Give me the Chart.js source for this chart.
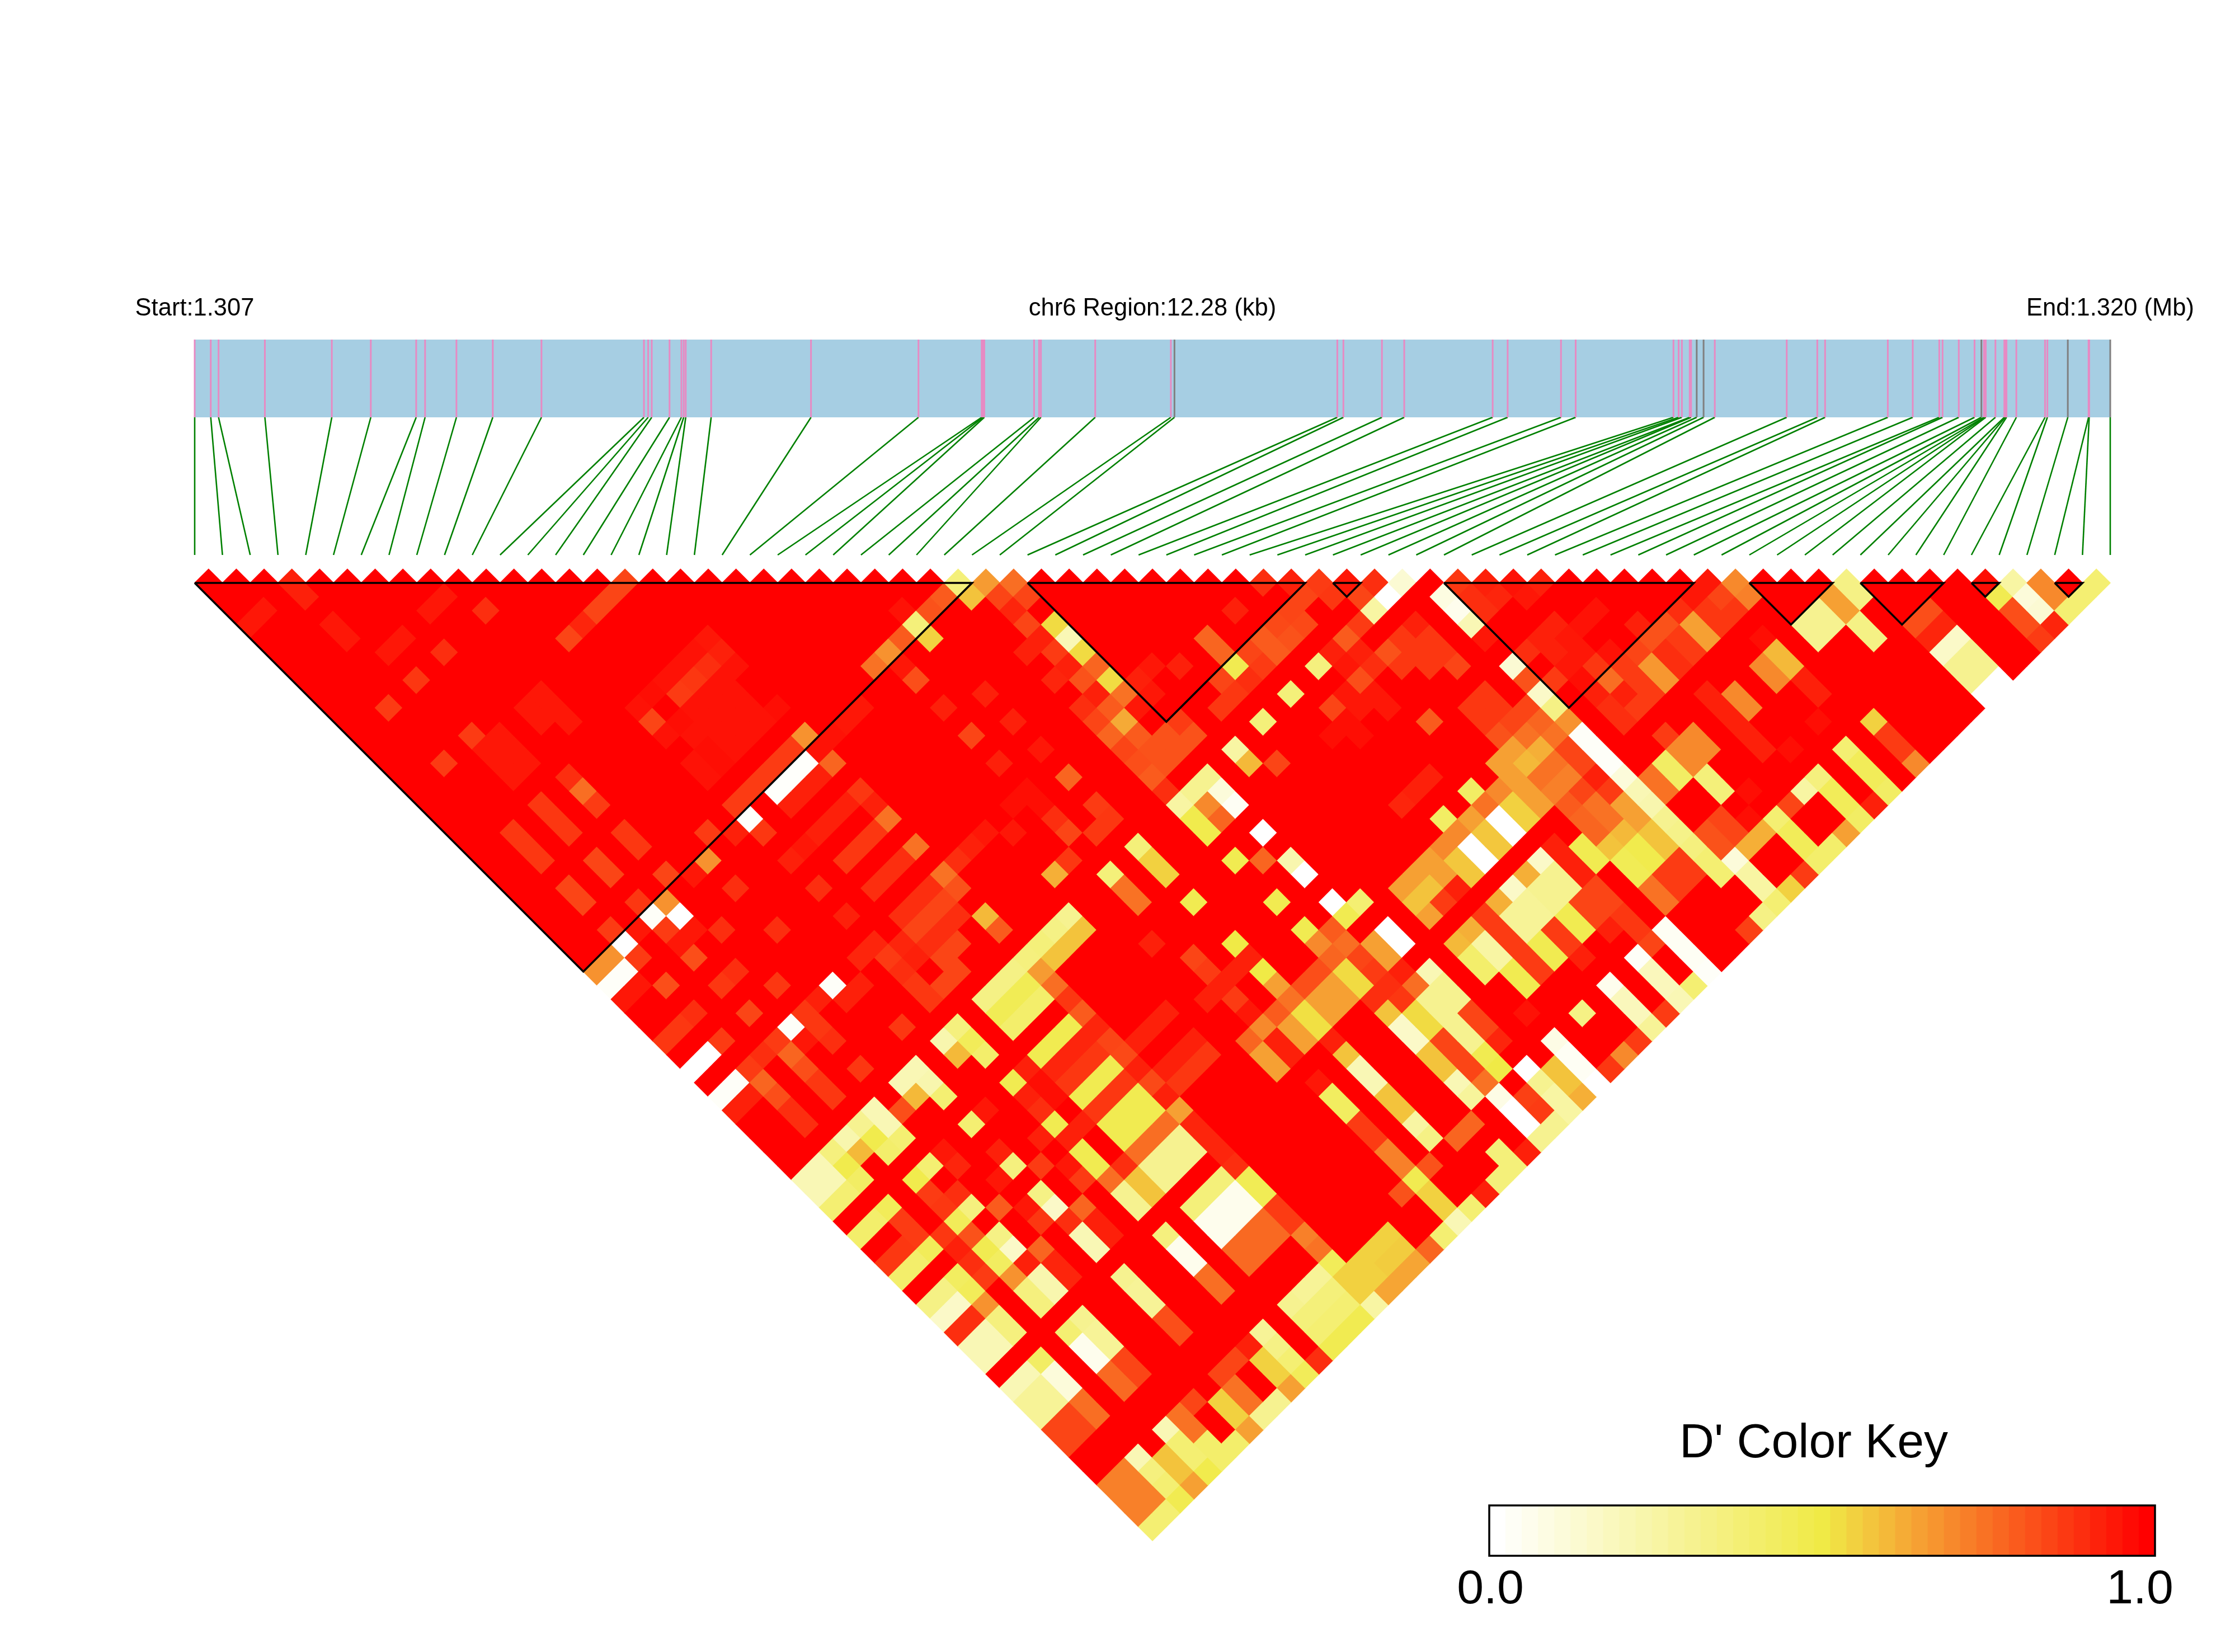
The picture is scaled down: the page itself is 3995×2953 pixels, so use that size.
<!DOCTYPE html>
<html>
<head>
<meta charset="utf-8">
<title>chr6 LD heatmap</title>
<script src="https://cdn.jsdelivr.net/npm/chart.js@4/dist/chart.umd.min.js"></script>
<style>
  html, body { margin: 0; padding: 0; background: #fff; }
  canvas { display: block; }
</style>
</head>
<body>
<canvas id="ldChart" width="3995" height="2953" role="img" aria-label="LD heatmap of chr6"></canvas>
<script>
// SNP positions in kb from the region start
const snpKb = [
  0, 0.103, 0.153, 0.45, 0.879, 1.129, 1.42, 1.477, 1.678, 1.911,
  2.223, 2.88, 2.907, 2.93, 3.044, 3.12, 3.135, 3.148, 3.311, 3.951,
  4.64, 5.045, 5.053, 5.062, 5.381, 5.413, 5.425, 5.773, 6.258, 6.281,
  7.325, 7.364, 7.611, 7.754, 8.321, 8.417, 8.759, 8.853, 9.48, 9.513,
  9.534, 9.584, 9.593, 9.629, 9.673, 9.745, 10.206, 10.402, 10.452, 10.854,
  11.014, 11.184, 11.205, 11.309, 11.41, 11.454, 11.47, 11.476, 11.482, 11.544,
  11.601, 11.607, 11.615, 11.678, 11.862, 11.877, 12.008, 12.141, 12.145, 12.28,
];
const regionKb = 12.28;
const greySnps = [30, 44, 45, 56, 67, 70];

// haplotype blocks, first and last SNP
const blockFirst = [1, 31, 42, 46, 57, 61, 65, 68];
const blockLast = [29, 41, 43, 55, 60, 64, 66, 69];

// D' of every pair that is not 1.0: SNP i, then j, value, j, value ...
const weakPairs = [
  [1, 5,.95, 30,.68, 31,.02, 32,.95, 35,.88, 37,0, 39,.02, 40,.93, 45,.2, 46,.2, 47,.38, 49,.4, 51,.88, 52,.4, 54,.33, 55,.15, 56,.9, 57,.2, 58,.2, 60,.2, 61,.28, 62,.28, 63,.85, 64,.85, 67,.72, 68,.72, 69,.72, 70,.38],
  [2, 5,.95, 30,.68, 31,.02, 32,.95, 35,.88, 37,0, 39,.02, 40,.93, 45,.2, 46,.2, 47,.38, 49,.4, 51,.88, 52,.4, 54,.33, 55,.15, 56,.9, 57,.2, 58,.2, 60,.2, 61,.28, 62,.28, 63,.85, 64,.85, 67,.72, 68,.72, 69,.72, 70,.38],
  [3, 13,.87, 17,.87, 22,.88, 23,.88, 24,.88, 26,.85, 27,.85, 29,.87, 30,0, 31,.87, 33,.83, 35,.9, 37,.87, 39,.87, 40,.78, 41,.83, 42,.9, 43,.9, 45,.35, 46,.48, 47,.42, 49,.45, 50,.87, 51,.87, 52,.45, 54,.43, 55,.45, 56,.68, 57,.35, 58,.35, 60,.42, 61,.1, 62,.1, 63,.76, 64,.76, 67,.2, 68,.35, 69,.38, 70,.47],
  [4, 5,.93, 6,.93, 8,.95, 9,.95, 30,.95, 39,.9, 45,.22, 46,.6, 52,.88, 53,.93, 54,.9, 55,.87, 68,.58, 69,.58, 70,.65],
  [5, 11,.95, 13,.88, 17,.87, 18,.95, 19,.95, 20,.95, 22,.88, 23,.88, 24,.88, 26,.85, 27,.85, 29,.88, 30,.02, 31,.87, 32,.95, 33,.83, 35,.88, 37,.85, 39,.87, 40,.78, 41,.83, 42,.88, 43,.88, 45,.3, 46,.48, 47,.4, 49,.48, 50,.87, 51,.88, 52,.45, 53,.82, 54,.47, 55,.43, 56,.68, 57,.35, 58,.35, 60,.38, 61,.05, 62,.05, 63,.77, 64,.77, 67,.2, 68,.38, 69,.38, 70,.48],
  [6, 11,.95, 18,.95, 19,.95, 20,.95, 30,.68, 31,0, 32,.95, 35,.9, 39,.02, 40,.95, 45,.2, 46,.2, 47,.38, 49,.38, 51,.9, 52,.35, 54,.33, 55,.15, 56,.93, 57,.22, 58,.22, 60,.3, 61,.28, 62,.28, 63,.85, 64,.85, 67,.75, 68,.75, 69,.4, 70,.4],
  [7, 13,.9, 22,.9, 23,.76, 24,.87, 26,.88, 27,.88, 29,.85, 33,.9, 37,.88, 39,.88, 40,.88, 41,.9, 43,.88, 46,.83, 49,.95, 50,.92, 53,.8, 56,.78, 57,.92, 58,.92, 67,.85, 70,.4],
  [8, 11,.95, 18,.95, 19,.95, 30,.95, 39,.93, 45,.2, 46,.6, 52,.95, 54,.95, 55,.88, 68,.55, 69,.55, 70,.65],
  [9, 11,.95, 18,.95, 19,.95, 20,.95, 30,.68, 32,.9, 35,.9, 39,.02, 40,.93, 45,.2, 46,.22, 47,.38, 49,.38, 51,.93, 52,.35, 54,.33, 55,.15, 56,.9, 57,.2, 58,.2, 60,.3, 61,.28, 62,.28, 63,.83, 64,.83, 67,.85, 68,.75, 69,.75, 70,.3],
  [10, 13,.9, 29,.87, 40,.93, 43,.88, 49,.95, 53,.87, 56,.78, 57,.93, 58,.93, 67,.85, 70,.3],
  [11, 30,.93, 39,.92, 45,.22, 46,.6, 52,.93, 54,.95, 55,.87, 67,.93, 68,.55, 69,.55, 70,.65],
  [12, 17,.85, 22,.96, 23,.85, 24,.96, 26,.96, 27,.96, 29,.87, 30,.01, 31,.88, 33,.93, 35,.9, 37,.93, 39,.92, 40,.87, 41,.9, 42,.88, 43,.88, 45,.35, 46,.45, 47,.4, 49,.47, 50,.93, 51,.9, 52,.47, 53,.93, 54,.47, 55,.47, 56,.76, 57,.3, 58,.3, 60,.35, 61,.05, 62,.05, 63,.76, 64,.76, 67,.28, 68,.33, 69,.38, 70,.45],
  [13, 17,.92, 22,.97, 24,.97, 25,.96, 26,.97, 27,.97, 29,.87, 33,.95, 40,.92, 41,.93, 43,.85, 49,.93, 50,.97, 51,.97, 53,.93, 56,.9, 57,.58, 58,.58, 70,.9],
  [14, 17,.85, 22,.96, 23,.87, 24,.96, 25,.96, 26,.96, 27,.96, 29,.87, 30,.01, 31,.93, 33,.93, 35,.88, 37,.9, 39,.9, 40,.85, 41,.9, 42,.85, 43,.85, 45,.33, 46,.46, 47,.4, 49,.47, 50,.92, 51,.88, 52,.47, 53,.88, 54,.47, 55,.47, 56,.76, 57,.3, 58,.3, 60,.36, 61,.05, 62,.05, 63,.77, 64,.77, 67,.3, 68,.36, 69,.38, 70,.47],
  [15, 17,.85, 22,.96, 23,.88, 24,.96, 25,.96, 26,.96, 27,.96, 29,.87, 30,.01, 31,.93, 33,.93, 35,.88, 37,.9, 39,.9, 40,.85, 41,.9, 42,.85, 45,.33, 46,.46, 47,.4, 49,.47, 50,.92, 51,.88, 52,.47, 53,.88, 54,.47, 55,.47, 56,.76, 57,.3, 58,.3, 60,.36, 61,.05, 62,.05, 63,.77, 64,.77, 67,.28, 68,.36, 69,.38, 70,.47],
  [16, 17,.85, 22,.96, 23,.9, 24,.96, 25,.96, 26,.96, 27,.96, 29,.87, 30,.01, 31,.93, 33,.93, 35,.88, 37,.9, 39,.9, 40,.85, 41,.9, 45,.33, 46,.46, 47,.4, 49,.47, 50,.92, 51,.88, 52,.47, 53,.88, 54,.47, 55,.47, 56,.76, 57,.3, 58,.3, 60,.36, 61,.05, 62,.05, 63,.77, 64,.77, 67,.28, 68,.36, 69,.38, 70,.47],
  [17, 22,.95, 23,.93, 24,.96, 27,.97, 29,.68, 30,.96, 31,.78, 33,.88, 34,.93, 35,.75, 37,.75, 39,.75, 40,.82, 42,.6, 43,.8, 45,.35, 46,.66, 47,.76, 48,.88, 49,.8, 50,.92, 51,.85, 52,.84, 53,.93, 54,.84, 55,.93, 56,.65, 57,.92, 58,.92, 59,.92, 60,.9, 61,.46, 62,.46, 63,.87, 64,.87, 65,.72, 66,.75, 67,.45, 68,.55, 69,.55, 70,.25],
  [18, 30,.96, 39,.9, 45,.36, 46,.58, 52,.93, 54,.93, 55,.88, 68,.55, 69,.55, 70,.64],
  [19, 30,.95, 39,.93, 45,.33, 46,.58, 52,.93, 54,.93, 55,.88, 68,.55, 69,.56, 70,.64],
  [20, 30,.95, 39,.95, 45,.3, 46,.58, 52,.93, 54,.93, 55,.88, 68,.55, 69,.56, 70,.64],
  [21, 40,.95, 43,.62, 70,.78],
  [22, 29,.75, 39,.97, 43,.88, 49,.93, 53,.93, 56,.78, 57,.65, 58,.65, 67,.82, 70,.38],
  [23, 29,.68, 30,.95, 31,.83, 33,.93, 35,.85, 37,.93, 39,.97, 40,.97, 41,.9, 42,.85, 45,.36, 46,.75, 47,.75, 51,.85, 52,.87, 53,.93, 54,.87, 55,.95, 56,.7, 57,.93, 58,.93, 60,.95, 61,.43, 62,.43, 63,.87, 64,.87, 65,.72, 66,.72, 67,.47, 68,.55, 69,.55, 70,.2],
  [24, 29,.8, 43,.88, 53,.93, 56,.8, 57,.65, 58,.65, 67,.82, 70,.38],
  [25, 28,.96, 29,.36, 30,.55, 34,.93, 36,.93, 38,.95, 40,.78, 42,.87, 43,.88, 45,.36, 46,.55, 47,.55, 49,.47, 52,.5, 53,.93, 54,.5, 55,.65, 56,.75, 57,.52, 58,.52, 59,.93, 60,.58, 61,.2, 62,.2, 63,.58, 64,.58, 65,.25, 66,.33, 70,.93],
  [26, 29,.82, 56,.83, 57,.65, 58,.65, 67,.78, 70,.36],
  [27, 29,.8, 56,.83, 57,.65, 58,.65, 67,.78, 69,.36, 70,.36],
  [28, 29,.36, 30,.58, 34,.93, 36,.92, 38,.9, 39,.85, 40,.78, 41,.85, 42,.83, 43,.8, 44,.9, 45,.25, 46,.48, 47,.48, 49,.47, 52,.47, 54,.47, 55,.7, 56,.78, 57,.53, 58,.53, 59,.9, 60,.58, 61,.15, 62,.15, 63,.58, 64,.58, 65,.2, 66,.27, 70,.93],
  [29, 30,.66, 31,.85, 32,.92, 33,.85, 34,.93, 35,.87, 36,.93, 37,.82, 38,.93, 39,.8, 40,.63, 41,.8, 42,.82, 43,.82, 45,.3, 46,.7, 47,.78, 50,.78, 55,.8, 56,.76, 57,.85, 58,.87, 59,.9, 60,.88, 61,.53, 62,.53, 63,.85, 64,.85, 65,.85, 66,.75, 67,.07, 68,0, 69,0, 70,.3],
  [30, 31,.76, 32,.85, 34,.53, 35,.2, 36,.53, 37,.78, 38,.53, 39,.75, 40,.95, 42,.82, 43,.82, 45,.3, 46,.1, 47,.03, 49,0, 51,.22, 52,0, 54,0, 55,.47, 57,.65, 58,.65, 59,.93, 60,.76, 61,.3, 62,.3, 63,.3, 64,.3, 65,.47, 66,.5, 68,.86, 69,.87, 70,.3],
  [31, 39,.93, 40,.95, 42,.87, 43,.82, 55,.38, 57,0, 58,0, 60,.2, 61,.3, 62,.3, 63,.85, 64,.85, 65,.92, 67,0, 68,.3, 69,.25, 70,.25],
  [32, 39,.95, 45,.25, 46,.6, 68,.58, 69,.58, 70,.62],
  [33, 40,.93, 43,.88, 47,.85, 56,.65, 57,.58, 58,.65, 60,.6, 61,.4, 62,.4, 65,.96, 67,.07, 68,.03, 69,.03, 70,0],
  [34, 42,.85, 43,.88, 45,.36, 56,.65, 57,.58, 58,.87, 60,.62, 61,.25, 62,.25, 63,.47, 64,.47, 70,.88],
  [35, 40,.78, 41,.78, 42,.47, 43,.9, 56,.65, 57,.65, 58,.93, 60,.87, 61,.87, 62,.87, 63,.87, 64,.87, 67,.33, 70,.7],
  [36, 42,.85, 43,.87, 45,.36, 48,.97, 53,.92, 56,.7, 57,.57, 58,.57, 60,.62, 61,.28, 62,.28, 63,.47, 64,.47, 70,.87],
  [37, 40,.93, 42,.8, 43,.8, 47,.85, 48,.97, 49,.97, 53,.93, 55,.42, 56,.7, 57,0, 58,0, 60,.15, 61,.28, 62,.28, 63,.87, 64,.87, 65,.93, 67,.05, 68,.18, 69,.18, 70,.28],
  [38, 42,.84, 43,.82, 45,.35, 47,.95, 48,.95, 53,.93, 56,.65, 57,.57, 58,.57, 60,.62, 61,.3, 62,.3, 63,.47, 64,.47, 70,.87],
  [39, 40,.9, 42,.85, 43,.84, 45,.93, 46,.95, 47,.83, 48,.95, 49,.95, 55,.42, 56,.75, 57,0, 58,0, 60,.15, 61,.3, 62,.3, 63,.85, 64,.85, 65,.93, 67,.02, 68,.18, 69,.18, 70,.2],
  [40, 41,.93, 42,.85, 45,.8, 46,.93, 47,.9, 51,.8, 56,.7, 57,.55, 58,.55, 60,.93, 61,.93, 62,.93, 63,.85, 64,.85, 65,.88, 66,.88, 67,.85, 70,.38],
  [41, 42,.87, 43,.88, 45,.87, 47,.82, 48,.88, 55,.65, 56,.65, 57,.65, 58,.65, 61,.47, 62,.47, 67,.03, 68,.03, 69,.03, 70,.02],
  [42, 43,.95, 44,.85, 45,.25, 47,.88, 48,.88, 49,.88, 52,.88, 53,.88, 54,.82, 55,.65, 56,.6, 57,.75, 58,.72, 59,.8, 60,.78, 61,.78, 62,.58, 63,.46, 64,.46, 65,.75, 66,.75],
  [43, 44,.9, 45,0, 47,.93, 48,.88, 49,.88, 50,.85, 52,.88, 53,.88, 54,.85, 55,.75, 56,.62, 57,.75, 58,.72, 59,.85, 60,.75, 61,.75, 62,.6, 63,.48, 64,.48, 65,.87, 66,.87],
  [44, 45,.12, 54,.85, 55,.78, 56,.75, 57,.85, 58,.85, 59,.93, 60,.87, 61,.65, 62,.65, 63,.58, 64,.58, 65,.87, 66,.87, 70,.86],
  [45, 47,.08, 48,.05, 49,.2, 50,.95, 52,.12, 53,.82, 54,.15, 55,.33, 56,.68, 57,.02, 58,.02, 59,.02, 60,.1, 61,.2, 62,.22, 63,.3, 64,.32, 65,.35, 66,.38, 67,.38, 70,.33],
  [46, 47,.88, 48,.9, 49,.9, 52,.9, 54,.87, 61,.75, 62,.75, 65,.82, 66,.82, 67,.1, 68,.25, 69,.25, 70,.38],
  [47, 48,.93, 49,.92, 52,.93, 53,.93, 54,.95, 55,.97, 56,.93, 57,.9, 58,.9, 61,.42, 62,.42, 65,.85, 66,.85, 67,.62, 70,.55],
  [48, 49,.96, 50,.95, 52,.93, 53,.95, 54,.95, 55,.88, 56,.76, 57,.93, 58,.87, 60,.87, 61,.7, 62,.7, 63,.36, 64,.36, 66,.97, 67,.62, 70,.87],
  [49, 50,.93, 53,.96, 55,.96, 56,.87, 57,.87, 58,.87, 61,.7, 62,.7, 65,.97, 67,.38, 68,.45, 69,.45, 70,.4],
  [50, 53,.96, 56,.85, 57,.67, 58,.67, 67,.85, 70,.4],
  [51, 55,.93, 56,.82, 57,.9, 58,.9, 60,.93, 61,.93, 62,.93, 63,.93, 64,.93, 67,.25, 70,.65],
  [52, 56,.82, 57,.87, 58,.87, 61,.7, 62,.7, 65,.97, 67,.35, 68,.45, 69,.45, 70,.42],
  [53, 56,.9, 57,.65, 58,.65, 70,.93],
  [54, 56,.95, 57,.88, 58,.88, 61,.7, 62,.7, 65,.97, 67,.38, 68,.45, 69,.45, 70,.42],
  [55, 56,.95, 57,.85, 58,.88, 60,.97, 61,.6, 62,.6, 63,.93, 64,.93],
  [56, 57,.7, 58,.72, 67,.55, 68,.87, 69,.87, 70,.7],
  [57, 61,.3, 62,.3],
  [58, 61,.3, 62,.3],
  [59, 61,.65, 62,.65, 63,.33, 64,.33],
  [60, 61,.33, 62,.33],
  [61, 65,.83, 66,.92, 67,.15, 68,.3, 69,.3, 70,0],
  [62, 65,.83, 66,.92, 67,.15, 68,.3, 69,.3, 70,0],
  [65, 66,.97, 67,.47, 68,.83, 69,.83, 70,.87],
  [66, 67,.25, 68,.1, 69,.12, 70,.92],
  [67, 68,.7, 69,.7, 70,.38],
  [68, 70,.38],
  [69, 70,.38],
];

const keyStops = [[0, [255, 255, 255]], [0.5, [240, 234, 70]], [0.65, [246, 160, 51]], [1, [255, 0, 0]]];
const keyBands = 41;

// canvas pixels of the layout, one SNP slot is slotPx wide
const slotPx = 3424 / 69;
const leftPx = 348, rowOnePx = 1042;
const mapTop = (607 - rowOnePx) / slotPx, mapBottom = (746 - rowOnePx) / slotPx, slotTop = (992 - rowOnePx) / slotPx;

function colorFor(v) {
  for (let s = 1; s < keyStops.length; s++) {
    if (v <= keyStops[s][0]) {
      const a = keyStops[s - 1], b = keyStops[s];
      const t = (v - a[0]) / (b[0] - a[0]);
      const c = a[1].map((n, k) => Math.round(n + (b[1][k] - n) * t));
      return "rgb(" + c.join(",") + ")";
    }
  }
  return "rgb(255,0,0)";
}

const nSnp = snpKb.length;
const weakByPair = {};
weakPairs.forEach((row) => {
  for (let k = 1; k < row.length; k += 2) weakByPair[row[0] + "-" + row[k]] = row[k + 1];
});

const cells = [];
const cellColors = [];
for (let i = 1; i < nSnp; i++) {
  for (let j = i + 1; j <= nSnp; j++) {
    const d = j - i;
    const key = i + "-" + j;
    cells.push({ x: i - 1 + d / 2, y: (d - 1) / 2 });
    cellColors.push(colorFor(key in weakByPair ? weakByPair[key] : 1));
  }
}

function lineSet(points, color, width, order) {
  return { type: "scatter", data: points, showLine: true, borderColor: color, borderWidth: width,
    pointRadius: 0, fill: false, order: order };
}

const datasets = [];
datasets.push({
  type: "scatter",
  data: cells,
  order: 5,
  pointStyle: "rectRot",
  // a little over half a slot so neighbouring diamonds leave no seam
  pointRadius: (ctx) => {
    const x = ctx.chart.scales.x;
    return Math.abs(x.getPixelForValue(0.5) - x.getPixelForValue(0)) + 1;
  },
  pointBackgroundColor: cellColors,
  pointBorderWidth: 0,
});
datasets.push({
  type: "line",
  data: [{ x: 0, y: mapTop }, { x: nSnp - 1, y: mapTop }],
  borderWidth: 0,
  pointRadius: 0,
  backgroundColor: "#A6CEE3",
  fill: { value: mapBottom },
  order: 4,
});
snpKb.forEach((kb, n) => {
  const mapX = kb / regionKb * (nSnp - 1);
  const tick = greySnps.includes(n + 1) ? "#808080" : "#E78AC3";
  datasets.push(lineSet([{ x: mapX, y: mapTop }, { x: mapX, y: mapBottom }], tick, 3, 3));
  datasets.push(lineSet([{ x: mapX, y: mapBottom }, { x: n, y: slotTop }], "#008000", 2.6, 3));
});
blockFirst.forEach((first, b) => {
  const last = blockLast[b];
  datasets.push(lineSet([
    { x: first - 1, y: 0 },
    { x: last - 1, y: 0 },
    { x: (first + last) / 2 - 1, y: (last - first) / 2 },
    { x: first - 1, y: 0 },
  ], "#000000", 3.6, 1));
});

const labelsPlugin = {
  id: "ldLabels",
  afterDraw(chart) {
    const ctx = chart.ctx;
    ctx.save();
    ctx.fillStyle = "#000";
    ctx.textAlign = "center";
    ctx.textBaseline = "alphabetic";
    ctx.font = '43.5px "Liberation Sans"';
    ctx.fillText("Start:1.307", 348, 564);
    ctx.fillText("chr6 Region:12.28 (kb)", 2060, 564);
    ctx.fillText("End:1.320 (Mb)", 3772, 564);

    // D' color key
    const keyL = 2662, keyR = 3852, keyT = 2691, keyB = 2781;
    const bw = (keyR - keyL) / keyBands;
    for (let b = 0; b < keyBands; b++) {
      ctx.fillStyle = colorFor(b / (keyBands - 1));
      ctx.fillRect(keyL + b * bw, keyT, bw + 0.5, keyB - keyT);
    }
    ctx.strokeStyle = "#000";
    ctx.lineWidth = 3.5;
    ctx.strokeRect(keyL, keyT, keyR - keyL, keyB - keyT);
    ctx.fillStyle = "#000";
    ctx.font = '86px "Liberation Sans"';
    ctx.fillText("D' Color Key", 3242, 2605);
    ctx.fillText("0.0", 2664, 2866);
    ctx.fillText("1.0", 3825, 2866);
    ctx.restore();
  },
};

new Chart(document.getElementById("ldChart").getContext("2d"), {
  type: "scatter",
  data: { datasets: datasets },
  plugins: [labelsPlugin],
  options: {
    responsive: false,
    animation: false,
    devicePixelRatio: 1,
    layout: { padding: 0 },
    plugins: { legend: { display: false }, tooltip: { enabled: false } },
    scales: {
      x: { type: "linear", display: false, min: -leftPx / slotPx, max: (3995 - leftPx) / slotPx },
      y: { type: "linear", display: false, reverse: true, min: -rowOnePx / slotPx, max: (2953 - rowOnePx) / slotPx },
    },
  },
});
</script>
</body>
</html>
